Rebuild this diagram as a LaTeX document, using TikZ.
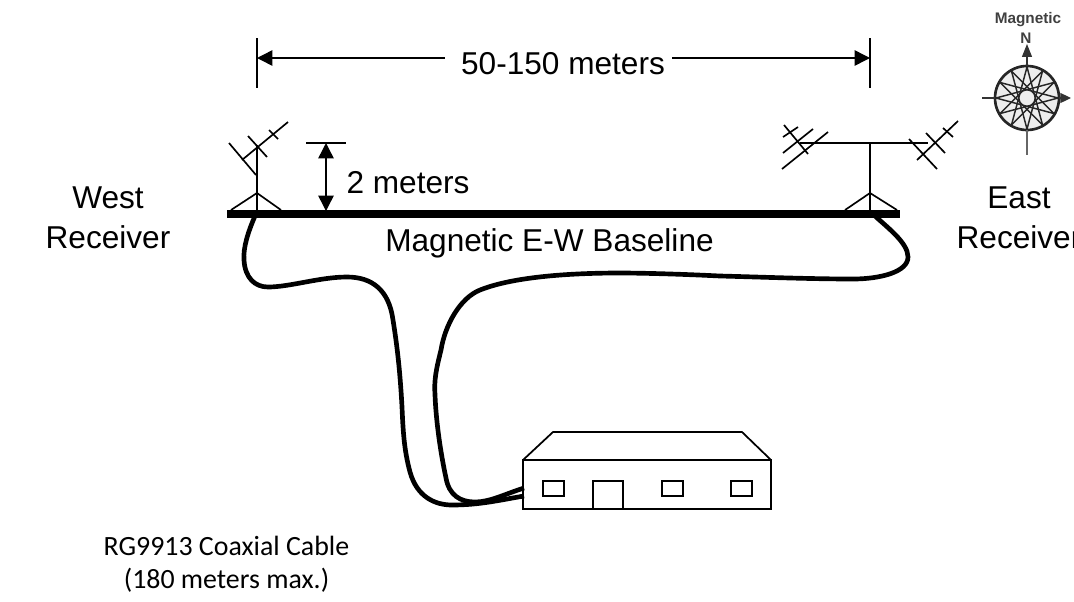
\documentclass[tikz,border=0pt]{standalone}
\usepackage{fontspec}
\setmainfont{Liberation Sans}
\newfontfamily\calib{Carlito}
\usetikzlibrary{arrows.meta,calc}
\tikzset{
 wire/.style={line width=1.25pt,black},
 dimline/.style={line width=1.1pt,black,-{Triangle[length=11.5pt,width=11.5pt]}},
 cable/.style={line width=3.5pt,black,line cap=butt},
 houseline/.style={line width=1.3pt,black},
 lab/.style={inner sep=0pt,anchor=base,font=\fontsize{23.7}{30}\selectfont,align=center},
 captiontext/.style={inner sep=0pt,anchor=base,font=\calib\fontsize{20.9}{24.75}\selectfont,align=center},
 comp/.style={inner sep=0pt,anchor=base,font=\bfseries\fontsize{11.5}{13}\selectfont,text=black!75}
}
\begin{document}
\begin{tikzpicture}[x=0.75pt,y=-0.75pt]
\useasboundingbox (0,0) rectangle (1074,601);
\path[clip] (0,0) rectangle (1074,601);
% coordinates
\coordinate (wb) at (227,214); \coordinate (eb) at (900,214);
\coordinate (wm) at (257,214); \coordinate (em) at (870,214);
\coordinate (wt) at (257,145); \coordinate (et) at (870,143);
\coordinate (hin1) at (524,488); \coordinate (hin2) at (524,496);
% baseline
\draw[line width=5.6pt] (wb) -- (eb);
% cables
\draw[cable] (255,216) .. controls (248,232) and (243,248) .. (244,260)
 .. controls (245,278) and (255,287) .. (268,287)
 .. controls (290,287) and (320,277) .. (347,277)
 .. controls (372,277) and (389,290) .. (393,320)
 .. controls (397,345) and (400,370) .. (402,407)
 .. controls (403,430) and (404,450) .. (410,472)
 .. controls (417,497) and (435,505) .. (452,505)
 .. controls (480,505) and (500,500) .. (hin2);
\draw[cable] (875,216) .. controls (888,228) and (908,243) .. (908,257)
 .. controls (908,272) and (880,279) .. (853,279)
 .. controls (810,279) and (760,277) .. (720,276)
 .. controls (680,274) and (640,273) .. (620,273)
 .. controls (575,273) and (515,276) .. (480,290)
 .. controls (460,298) and (445,325) .. (441,350)
 .. controls (436,370) and (434,380) .. (435,395)
 .. controls (436,420) and (440,450) .. (446,478)
 .. controls (449,495) and (460,502) .. (475,502)
 .. controls (490,502) and (505,494) .. (hin1);
% west antenna
\draw[wire] (wm) -- (wt);
\draw[wire] (231,210) -- (257,193) -- (281,210);
\draw[wire] (242,160) -- (288,122);
\draw[wire] (229,143) -- (256,175);
\draw[wire] (248,136) -- (267,157);
\draw[wire] (269,130) -- (278,139);
% east antenna
\draw[wire] (em) -- (et);
\draw[wire] (800,143) -- (928,143);
\draw[wire] (845,210) -- (870,193) -- (897,210);
\draw[wire] (784,125) -- (808,154);
\draw[wire] (783,153) -- (813,129);
\draw[wire] (782,169) -- (828,132);
\draw[wire] (783,137) -- (798,127);
\draw[wire] (917,160) -- (958,121);
\draw[wire] (909,139) -- (937,169);
\draw[wire] (926,133) -- (945,153);
\draw[wire] (943,128) -- (953,137);
% span dimension
\node[lab] (span) at (563,74) {50-150 meters};
\coordinate (sl) at (257,58); \coordinate (sr) at (870,58);
\draw[wire] (257,38) -- (257,88);
\draw[wire] (870,38) -- (870,88);
\draw[dimline] ($(span.west |- sl)+(-16,0)$) -- (sl);
\draw[dimline] ($(span.east |- sr)+(7,0)$) -- (sr);
% height dimension
\coordinate (ht) at (326,143); \coordinate (hb) at (326,211); \coordinate (hm) at (326,178);
\draw[wire] (306,143) -- (346,143);
\draw[dimline] (hm) -- (ht);
\draw[dimline] (hm) -- (hb);
% labels
\node[lab] (twom) at (408,193) {2 meters};
\node[lab] (west) at (108,248) {West\\Receiver};
\node[lab] (east) at (1019,248) {East\\Receiver};
\node[lab] (base) at (549.5,251) {Magnetic E-W Baseline};
\node[captiontext] (cable) at (226.5,588) {RG9913 Coaxial Cable\\(180 meters max.)};
% house
\draw[houseline] (523,460) rectangle (771,509);
\draw[houseline] (523,460) -- (553,432) -- (742,432) -- (771,460);
\draw[houseline] (543,481) rectangle (564,496);
\draw[houseline] (662,481) rectangle (683,496);
\draw[houseline] (731,481) rectangle (752,496);
\draw[houseline] (593,509) -- (593,481) -- (623,481) -- (623,509);
% compass
\coordinate (cc) at (1027,98);
\fill[black!7] (cc) circle (32);
\foreach \i in {0,...,11} {
 \draw[line width=1.1pt,black!85] ($(cc)+({\i*30}:31)$) -- ($(cc)+({(\i+5)*30}:31)$);
}
\draw[line width=2pt,black!85] (cc) circle (32);
\draw[line width=.8pt,black!80] (982,98) -- (995,98);
\draw[line width=.8pt,black!80,-{Triangle[length=8pt,width=7.5pt]}] (1059,98) -- (1071,98);
\draw[line width=.8pt,black!60] (1027,130) -- (1027,155);
\draw[line width=.8pt,black!80,-{Triangle[length=9.7pt,width=7.5pt]}] (1027,66) -- (1027,44);
\node[comp] (magn) at (1028,23) {Magnetic};
\node[comp] (north) at (1026,43) {N};
\end{tikzpicture}
\end{document}
